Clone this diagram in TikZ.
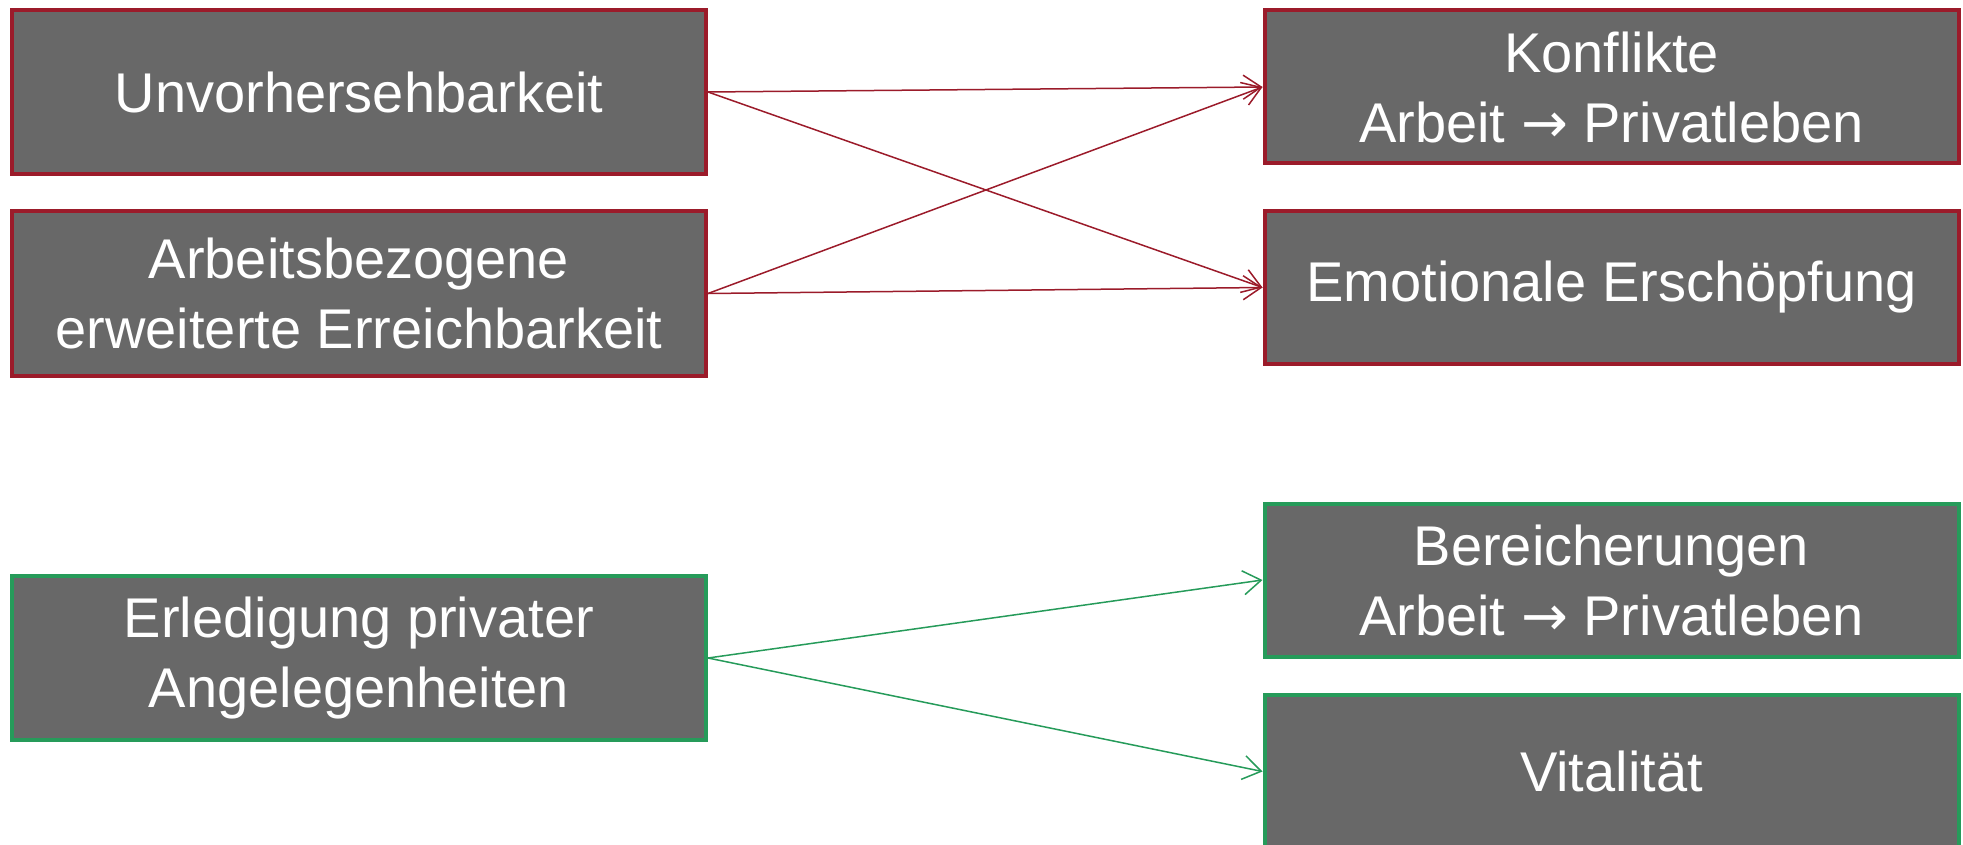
\documentclass[tikz,border=0pt]{standalone}
\usepackage{fontspec}
\setmainfont{Liberation Sans}
\newfontfamily\arrowfont{DejaVu Sans}
\usetikzlibrary{arrows.meta, positioning}
\definecolor{boxgray}{RGB}{104,104,104}
\definecolor{darkred}{RGB}{155,27,42}
\definecolor{darkgreen}{RGB}{38,155,90}

\begin{document}
\begin{tikzpicture}[x=0.5pt,y=-0.5pt,align=center]
\tikzstyle{box}=[rectangle,draw,line width=2pt,fill=boxgray,text=white,font=\fontsize{28}{35}\selectfont,minimum width=347pt,inner sep=0pt]
\tikzstyle{cause}=[box,minimum height=82pt]
\tikzstyle{effect}=[box,minimum height=76.5pt]
\tikzstyle{negbox}=[draw=darkred]
\tikzstyle{posbox}=[draw=darkgreen]
\tikzstyle{link}=[-{Straight Barb[length=9pt,width=12pt]},line width=0.75pt]

\useasboundingbox (0,0) rectangle (1963,845);

\node[cause,negbox] (u) at (359,92) {Unvorhersehbarkeit};
\node[cause,negbox] (a) at (359,293.5) {Arbeitsbezogene\\erweiterte Erreichbarkeit};
\node[cause,posbox] (e) at (359,658) {Erledigung privater\\Angelegenheiten};

\node[effect,negbox] (k) at (1611.5,87) {Konflikte\\Arbeit {\arrowfont →} Privatleben};
\node[effect,negbox] (m) at (1611.5,287.5) {Emotionale Erschöpfung};
\node[effect,posbox] (b) at (1611.5,580) {Bereicherungen\\Arbeit {\arrowfont →} Privatleben};
\node[effect,posbox] (v) at (1611.5,771.5) {Vitalität};

\path[]
  (u.east) edge [link,darkred] (k.west)
  (u.east) edge [link,darkred] (m.west)
  (a.east) edge [link,darkred] (k.west)
  (a.east) edge [link,darkred] (m.west)
  (e.east) edge [link,darkgreen] (b.west)
  (e.east) edge [link,darkgreen] (v.west);
\end{tikzpicture}
\end{document}
